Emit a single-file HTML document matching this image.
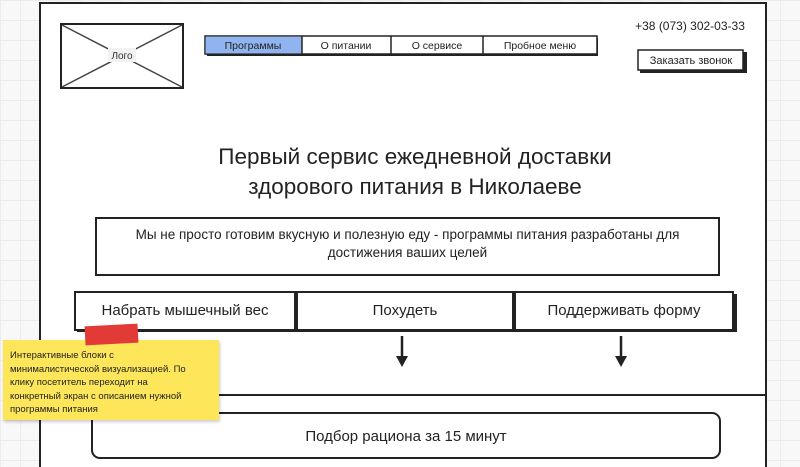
<!DOCTYPE html>
<html><head><meta charset="utf-8"><style>
*{margin:0;padding:0;box-sizing:border-box}
html,body{width:800px;height:467px;overflow:hidden}
body{position:relative;font-family:"Liberation Sans","DejaVu Sans",sans-serif;color:#222;
background-color:#f8f8f8;background-image:linear-gradient(#ececec 1px,transparent 1px),linear-gradient(90deg,#ececec 1px,transparent 1px);background-size:20px 20px}
.a{position:absolute}
.t{position:absolute;text-align:center;white-space:nowrap}
</style></head><body>
<div class="a" style="left:39px;top:2px;width:728px;height:480px;background:#fff;border:2px solid #222"></div>
<div class="a" style="left:39px;top:394px;width:728px;height:2px;background:#222"></div>
<svg class="a" style="left:0;top:0" width="800" height="467">
<rect x="61" y="24" width="122" height="64" fill="#fff" stroke="#222" stroke-width="2"/>
<line x1="62" y1="25" x2="182" y2="87" stroke="#444" stroke-width="1.5"/>
<line x1="182" y1="25" x2="62" y2="87" stroke="#444" stroke-width="1.5"/>
<rect x="108" y="48" width="28" height="14" fill="#f2f2f2"/>
<text x="122" y="59" font-size="10" text-anchor="middle" fill="#333" font-family="Liberation Sans, DejaVu Sans, sans-serif">Лого</text>
<rect x="207" y="38" width="391" height="18" fill="#222"/>
<rect x="205" y="36" width="392" height="18" fill="#fff" stroke="#222" stroke-width="1.5"/>
<rect x="205.7" y="36.7" width="96" height="16.6" fill="#8fb4ef"/>
<line x1="302" y1="36" x2="302" y2="54" stroke="#222" stroke-width="1.5"/>
<line x1="391" y1="36" x2="391" y2="54" stroke="#222" stroke-width="1.5"/>
<line x1="483" y1="36" x2="483" y2="54" stroke="#222" stroke-width="1.5"/>
<g font-size="10.5" text-anchor="middle" fill="#222" font-family="Liberation Sans, DejaVu Sans, sans-serif">
<text x="253" y="49">Программы</text><text x="346" y="49">О питании</text><text x="437" y="49">О сервисе</text><text x="540" y="49">Пробное меню</text></g>
<rect x="640" y="52" width="107" height="21" fill="#222"/>
<rect x="638" y="50" width="105" height="20" fill="#fff" stroke="#222" stroke-width="1.5"/>
<text x="691" y="64" font-size="11" text-anchor="middle" fill="#222" font-family="Liberation Sans, DejaVu Sans, sans-serif">Заказать звонок</text>
<rect x="96" y="218" width="623" height="57" fill="#fff" stroke="#222" stroke-width="2"/>
<rect x="77" y="294" width="660" height="38" fill="#222"/>
<rect x="75" y="292" width="220" height="38" fill="#fff" stroke="#222" stroke-width="2"/>
<rect x="297" y="292" width="216" height="38" fill="#fff" stroke="#222" stroke-width="2"/>
<rect x="515" y="292" width="218" height="38" fill="#fff" stroke="#222" stroke-width="2"/>
<line x1="402" y1="336" x2="402" y2="358" stroke="#222" stroke-width="2.5"/><polygon points="396,356 408,356 402,367" fill="#222"/>
<line x1="621" y1="336" x2="621" y2="358" stroke="#222" stroke-width="2.5"/><polygon points="615,356 627,356 621,367" fill="#222"/>
<rect x="92" y="413" width="628" height="45" rx="8" fill="#fff" stroke="#222" stroke-width="2"/>
</svg>
<div class="t" style="left:100px;width:630px;top:142px;font-size:22.5px;line-height:30px">Первый сервис ежедневной доставки<br>здорового питания в Николаеве</div>
<div class="t" style="left:96px;width:623px;top:226px;font-size:13.5px;line-height:18px">Мы не просто готовим вкусную и полезную еду - программы питания разработаны для<br>достижения ваших целей</div>
<div class="t" style="left:75px;width:220px;top:302px;font-size:15px">Набрать мышечный вес</div>
<div class="t" style="left:297px;width:216px;top:302px;font-size:15px">Похудеть</div>
<div class="t" style="left:515px;width:218px;top:302px;font-size:15px">Поддерживать форму</div>
<div class="t" style="left:92px;width:628px;top:428px;font-size:15px">Подбор рациона за 15 минут</div>
<div class="t" style="left:600px;width:180px;top:19px;font-size:12px">+38 (073) 302-03-33</div>
<div class="a" style="left:3px;top:340px;width:216px;height:80px;background:#fde65a;box-shadow:1px 2px 3px rgba(0,0,0,.2)"></div>
<div class="a" style="left:10px;top:349px;font-size:9.5px;line-height:13.5px;color:#222;white-space:nowrap">Интерактивные блоки с<br>минималистической визуализацией. По<br>клику посетитель переходит на<br>конкретный экран с описанием нужной<br>программы питания</div>
<div class="a" style="left:85px;top:325px;width:53px;height:19px;background:#e23a36;transform:rotate(-3deg)"></div>
</body></html>
